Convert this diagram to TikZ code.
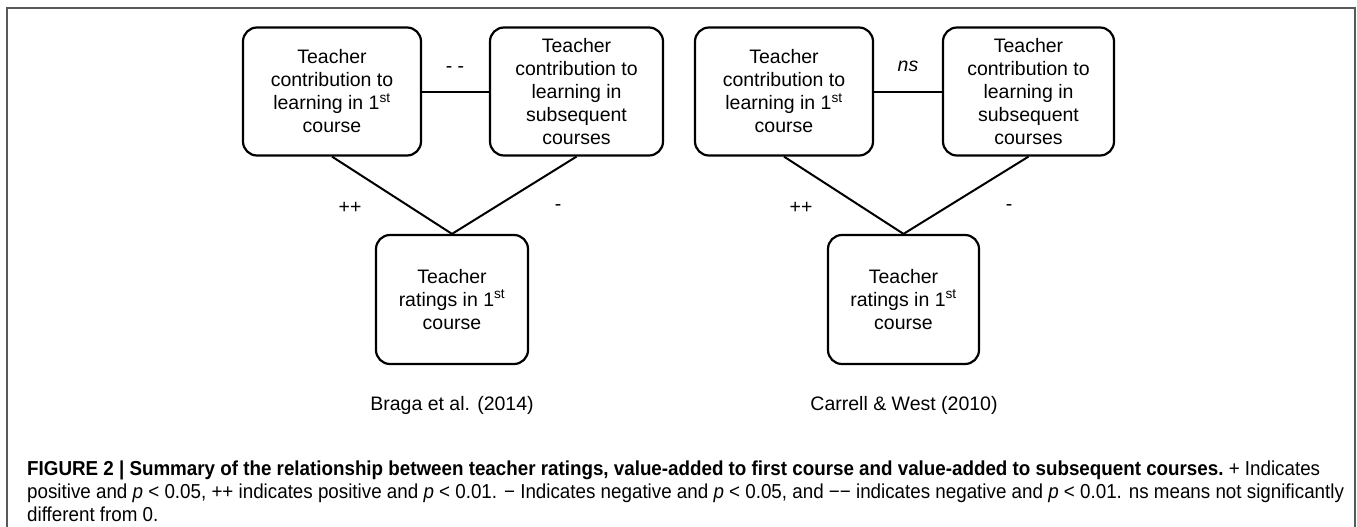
\documentclass[tikz,border=0pt]{standalone}
\usepackage{fontspec}
\setmainfont{Liberation Sans}
\newfontfamily\capfont[FakeStretch=0.93]{Liberation Sans}

\tikzset{
  box/.style={draw, line width=2.2pt, rounded corners=14pt, align=center, inner sep=0pt,
    font=\fontsize{19.5}{23}\selectfont},
  lbl/.style={font=\fontsize{19.5}{23}\selectfont},
  capline/.style={anchor=base west, inner sep=0pt, font=\capfont\fontsize{20.2}{23}\selectfont},
}

\begin{document}
\begin{tikzpicture}[x=1pt, y=-1pt]
\useasboundingbox (0,0) rectangle (1357,527);
\draw[black!65, line width=1.7pt] (7,527) -- (7,8) -- (1355,8) -- (1355,527);

% Braga et al.
\node[box, minimum width=178pt, minimum height=128pt](A1) at (332, 91.5) {Teacher\\contribution to\\learning in 1\textsuperscript{st}\\course};
\node[box, minimum width=173pt, minimum height=128pt](B1) at (576.5, 91.5) {Teacher\\contribution to\\learning in\\subsequent\\courses};
\node[box, minimum width=152pt, minimum height=129pt](C1) at (452, 299.5) {Teacher\\ratings in 1\textsuperscript{st}\\course};
\draw[line width=2pt] (A1) -- (B1);
\draw[line width=2pt] (A1.south) -- (C1.north) -- (B1.south);
\node[lbl](AB1) at (455, 70) {- -};
\node[lbl](AC1) at (350, 208) {++};
\node[lbl](BC1) at (558, 208) {-};
\node[lbl](src1) at (452, 405) {Braga et al. (2014)};

% Carrell & West
\node[box, minimum width=178pt, minimum height=128pt](A2) at (784, 91.5) {Teacher\\contribution to\\learning in 1\textsuperscript{st}\\course};
\node[box, minimum width=171pt, minimum height=128pt](B2) at (1028.5, 91.5) {Teacher\\contribution to\\learning in\\subsequent\\courses};
\node[box, minimum width=151pt, minimum height=129pt](C2) at (903.5, 299.5) {Teacher\\ratings in 1\textsuperscript{st}\\course};
\draw[line width=2pt] (A2) -- (B2);
\draw[line width=2pt] (A2.south) -- (C2.north) -- (B2.south);
\node[lbl](AB2) at (908, 66) {\itshape ns};
\node[lbl](AC2) at (801, 208) {++};
\node[lbl](BC2) at (1009, 208) {-};
\node[lbl](src2) at (904, 405) {Carrell \& West (2010)};

% caption
\node[capline](cap1) at (27, 475) {\bfseries FIGURE 2 | Summary of the relationship between teacher ratings, value-added to first course and value-added to subsequent courses.\mdseries\ + Indicates};
\node[capline](cap2) at (27, 498) {positive and \textit{p} < 0.05, ++ indicates positive and \textit{p} < 0.01. − Indicates negative and \textit{p} < 0.05, and −− indicates negative and \textit{p} < 0.01. ns means not significantly};
\node[capline](cap3) at (27, 521) {different from 0.};
\end{tikzpicture}
\end{document}
